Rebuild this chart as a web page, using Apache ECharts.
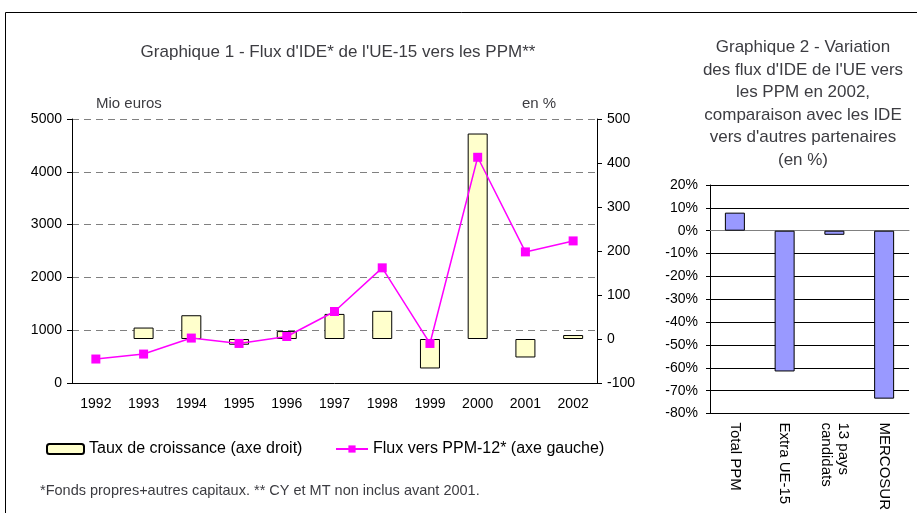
<!DOCTYPE html>
<html>
<head>
<meta charset="utf-8">
<script src="https://cdn.jsdelivr.net/npm/echarts@6/dist/echarts.min.js"></script>
<style>
  html, body { margin: 0; padding: 0; background: #fff; }
  #chart { width: 917px; height: 513px; }
</style>
</head>
<body>
<div id="chart"></div>
<script>
// Graphique 1
const years = ['1992', '1993', '1994', '1995', '1996', '1997', '1998', '1999', '2000', '2001', '2002'];
const tauxCroissance = [null, 26, 54, -13, 18, 57, 64, -67, 467, -42, 9];      // axe droit, en %
const fluxPPM = [454, 548, 851, 749, 881, 1354, 2181, 749, 4275, 2483, 2691]; // axe gauche, Mio euros

// Graphique 2
const partenaires = ['Total PPM', 'Extra UE-15', '13 pays\ncandidats', 'MERCOSUR'];
const variation2002 = [7.9, -61.6, -1.8, -73.5];

const FONT = '"Liberation Sans", Arial, sans-serif';
const chart = echarts.init(document.getElementById('chart'));

const option = {
  animation: false,
  backgroundColor: '#fff',
  textStyle: { fontFamily: FONT, color: '#000' },
  title: [
    {
      text: "Graphique 1 - Flux d'IDE* de l'UE-15 vers les PPM**",
      left: 338, top: 44, textAlign: 'center', padding: 0,
      textStyle: { fontSize: 17, fontWeight: 'normal', fontFamily: FONT }
    },
    {
      text: "Graphique 2 - Variation\ndes flux d'IDE de l'UE vers\nles PPM en 2002,\ncomparaison avec les IDE\nvers d'autres partenaires\n(en %)",
      left: 803, top: 36, textAlign: 'center', padding: 0,
      textStyle: { fontSize: 17, fontWeight: 'normal', fontFamily: FONT, lineHeight: 22.6, align: 'center' }
    },
    {
      text: 'Mio euros', left: 96, top: 96, padding: 0,
      textStyle: { fontSize: 15, fontWeight: 'normal', fontFamily: FONT }
    },
    {
      text: 'en %', left: 522, top: 96, padding: 0,
      textStyle: { fontSize: 15, fontWeight: 'normal', fontFamily: FONT }
    },
    {
      text: '*Fonds propres+autres capitaux. ** CY et MT non inclus avant 2001.',
      left: 40, top: 483, padding: 0,
      textStyle: { fontSize: 14.5, fontWeight: 'normal', fontFamily: FONT }
    }
  ],
  legend: [
    {
      data: ['Taux de croissance (axe droit)'],
      left: 46, top: 441, padding: 0, itemWidth: 37, itemHeight: 10,
      textStyle: { fontSize: 16, fontFamily: FONT, color: '#000' }
    },
    {
      data: ['Flux vers PPM-12* (axe gauche)'],
      left: 335, top: 441, padding: 0, itemWidth: 32, itemHeight: 9,
      textStyle: { fontSize: 16, fontFamily: FONT, color: '#000' }
    }
  ],
  graphic: [
    {
      type: 'rect', silent: true,
      shape: { x: 5.5, y: 12.5, width: 1000, height: 600 },
      style: { fill: 'none', stroke: '#000', lineWidth: 1 }
    }
  ],
  grid: [
    { left: 72, right: 320, top: 119, bottom: 130 },
    { left: 710, right: 8, top: 185, bottom: 96 }
  ],
  xAxis: [
    {
      gridIndex: 0, type: 'category', data: years, position: 'bottom',
      axisLine: { onZero: false, lineStyle: { color: '#000' } },
      axisTick: { length: 5, lineStyle: { color: '#000' } },
      axisLabel: { fontSize: 14, margin: 14, color: '#000', fontFamily: FONT }
    },
    {
      gridIndex: 1, type: 'category', data: partenaires, position: 'bottom',
      axisLine: { onZero: false, lineStyle: { color: '#000' } },
      axisTick: { show: false },
      axisLabel: { fontSize: 15, rotate: -90, margin: 9, color: '#000', fontFamily: FONT, lineHeight: 17 }
    },
    {
      gridIndex: 1, type: 'category', data: partenaires, position: 'bottom',
      axisLine: { onZero: true, lineStyle: { color: '#808080' } },
      axisTick: { inside: true, length: 4, lineStyle: { color: '#333' } },
      axisLabel: { show: false }
    }
  ],
  yAxis: [
    {
      gridIndex: 0, type: 'value', min: 0, max: 5000, interval: 1000, position: 'left',
      axisLine: { show: true, lineStyle: { color: '#000' } },
      axisTick: { show: true, length: 5, lineStyle: { color: '#000' } },
      axisLabel: { fontSize: 14, margin: 10, color: '#000', fontFamily: FONT, formatter: (v) => String(v) },
      splitLine: { show: true, lineStyle: { color: '#808080', type: [7, 5] } }
    },
    {
      gridIndex: 0, type: 'value', min: -100, max: 500, interval: 100, position: 'right',
      axisLine: { show: true, lineStyle: { color: '#000' } },
      axisTick: { show: true, length: 5, lineStyle: { color: '#000' } },
      axisLabel: { fontSize: 14, margin: 10, color: '#000', fontFamily: FONT, formatter: (v) => String(v) },
      splitLine: { show: false }
    },
    {
      gridIndex: 1, type: 'value', min: -80, max: 20, interval: 10,
      axisLine: { show: true, lineStyle: { color: '#000' } },
      axisTick: { show: true, length: 4, lineStyle: { color: '#000' } },
      axisLabel: { fontSize: 14, margin: 12, color: '#000', fontFamily: FONT, formatter: '{value}%' },
      splitLine: { show: true, lineStyle: { color: '#000', width: 1 } }
    }
  ],
  series: [
    {
      name: 'Taux de croissance (axe droit)',
      type: 'bar', xAxisIndex: 0, yAxisIndex: 1,
      data: tauxCroissance, barWidth: 20,
      itemStyle: { color: '#FFFFCC', borderColor: '#000', borderWidth: 1 }
    },
    {
      name: 'Flux vers PPM-12* (axe gauche)',
      type: 'line', xAxisIndex: 0, yAxisIndex: 0,
      data: fluxPPM, symbol: 'rect', symbolSize: 9,
      lineStyle: { color: '#FF00FF', width: 1.5 },
      itemStyle: { color: '#FF00FF' }
    },
    {
      name: 'Variation 2002',
      type: 'bar', xAxisIndex: 1, yAxisIndex: 2,
      data: variation2002, barWidth: 20,
      itemStyle: { color: '#9999FF', borderColor: '#000', borderWidth: 1 }
    }
  ]
};

chart.setOption(option);
</script>
</body>
</html>
